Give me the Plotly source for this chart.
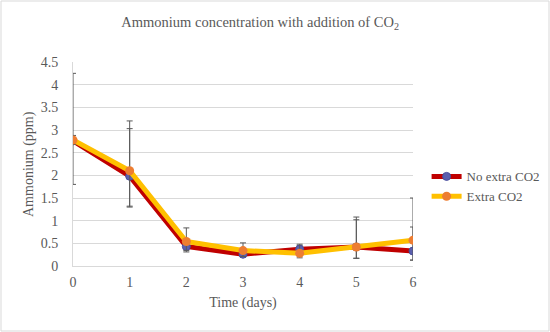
import plotly.graph_objects as go

days = [0, 1, 2, 3, 4, 5, 6]
no_extra = [2.76, 1.98, 0.43, 0.26, 0.37, 0.42, 0.33]
no_extra_up = [1.49, 1.05, 0.12, 0.08, 0.08, 0.60, 0.53]
no_extra_down = [0.96, 0.68, 0.12, 0.06, 0.10, 0.25, 0.20]
extra = [2.78, 2.10, 0.54, 0.34, 0.28, 0.42, 0.57]
extra_up = [0.10, 1.10, 0.30, 0.17, 0.20, 0.66, 0.93]
extra_down = [0.10, 0.78, 0.20, 0.13, 0.10, 0.25, 0.44]

tick_vals = [0, 0.5, 1, 1.5, 2, 2.5, 3, 3.5, 4, 4.5]
tick_text = ["0", "0.5", "1", "1.5", "2", "2.5", "3", "3.5", "4", "4.5"]

font_family = "Liberation Serif, Times New Roman, serif"
grey = "#595959"

fig = go.Figure()
fig.add_trace(go.Scatter(
    x=days, y=no_extra, name="No extra CO2", mode="lines+markers",
    line=dict(color="#C00000", width=5),
    marker=dict(color="#5B5FAE", size=8, line=dict(color="#4A4F9E", width=1)),
    error_y=dict(type="data", symmetric=False, array=no_extra_up,
                 arrayminus=no_extra_down, color=grey, thickness=1, width=3),
))
fig.add_trace(go.Scatter(
    x=days, y=extra, name="Extra CO2", mode="lines+markers",
    line=dict(color="#FFC000", width=5),
    marker=dict(color="#ED7D31", size=9),
    error_y=dict(type="data", symmetric=False, array=extra_up,
                 arrayminus=extra_down, color=grey, thickness=1, width=3),
))

fig.update_layout(
    width=550, height=332,
    margin=dict(l=73, r=137, t=62, b=66, autoexpand=False),
    paper_bgcolor="white", plot_bgcolor="white",
    font=dict(family=font_family, size=14, color=grey),
    title=dict(text="Ammonium concentration with addition of CO<sub>2</sub>",
               x=0.473, xanchor="center", y=0.948, yanchor="top",
               font=dict(family=font_family, size=14.5, color=grey),
               automargin=False),
    xaxis=dict(range=[0, 6], tickmode="array", tickvals=days,
               ticktext=[str(d) for d in days], showgrid=False, zeroline=False,
               showline=True, linecolor="#D9D9D9", linewidth=1,
               ticks="outside", ticklen=3, tickcolor="rgba(0,0,0,0)",
               automargin=False,
               title=dict(text="Time (days)", font=dict(size=14, color=grey), standoff=8),
               tickfont=dict(size=14, color=grey)),
    yaxis=dict(range=[0, 4.5], tickmode="array", tickvals=tick_vals, ticktext=tick_text,
               showgrid=True, gridcolor="#D9D9D9", gridwidth=1, zeroline=False,
               showline=True, linecolor="#D9D9D9", linewidth=1,
               ticks="outside", ticklen=11, tickcolor="rgba(0,0,0,0)",
               automargin=False,
               tickfont=dict(size=14, color=grey)),
    annotations=[dict(text="Ammonium (ppm)", textangle=-90, xref="paper", yref="paper",
                      x=-44/340, y=0.5, xanchor="center", yanchor="middle",
                      showarrow=False, font=dict(size=14, color=grey))],
    legend=dict(x=1.04, xanchor="left", y=0.39, yanchor="middle",
                font=dict(size=13, color=grey), bgcolor="rgba(0,0,0,0)",
                tracegroupgap=2, itemwidth=30),
    showlegend=True,
    shapes=[dict(type="rect", xref="paper", yref="paper",
                 x0=-72/340, x1=476/340, y0=-65/204, y1=265/204,
                 line=dict(color="#D9D9D9", width=1), layer="below")],
)
fig.write_html("out.html", config={"displayModeBar": False},
               post_script="document.body.style.margin='0';document.body.style.padding='0';")
